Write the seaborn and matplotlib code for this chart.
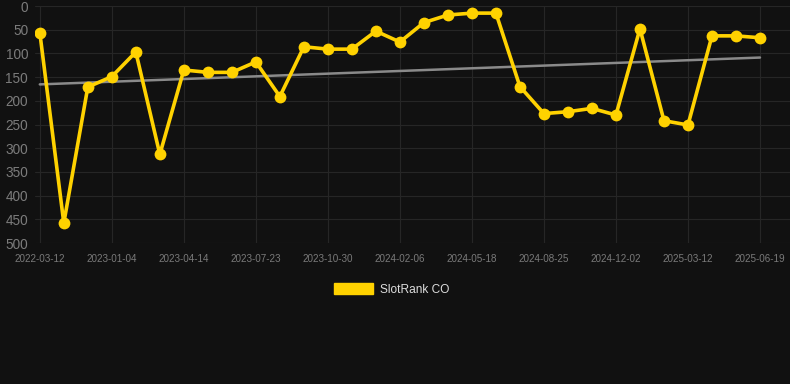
import numpy as np
import pandas as pd
import matplotlib
matplotlib.use("Agg")
import matplotlib.pyplot as plt
import seaborn as sns
from matplotlib.patches import Patch

# rank history (lower is better), one value per sampled date
dates = ["2022-03-12", "2022-06-20", "2022-10-01", "2023-01-04", "2023-02-06",
         "2023-03-11", "2023-04-14", "2023-05-17", "2023-06-19", "2023-07-23",
         "2023-08-25", "2023-09-27", "2023-10-30", "2023-12-02", "2024-01-04",
         "2024-02-06", "2024-03-10", "2024-04-14", "2024-05-18", "2024-06-20",
         "2024-07-23", "2024-08-25", "2024-09-27", "2024-10-30", "2024-12-02",
         "2025-01-04", "2025-02-06", "2025-03-12", "2025-04-14", "2025-05-17",
         "2025-06-19"]
ranks = [56, 458, 171, 149, 97, 313, 135, 140, 140, 118,
         191, 86, 91, 91, 53, 76, 35, 19, 15, 15,
         170, 227, 223, 216, 230, 48, 242, 251, 63, 63, 67]
y_ticks = [0, 50, 100, 150, 200, 250, 300, 350, 400, 450, 500]

df = pd.DataFrame({"date": dates, "rank": ranks})
df["idx"] = np.arange(len(df))

# linear trend over the series
slope, intercept = np.polyfit(df["idx"], df["rank"], 1)
df["trend"] = intercept + slope * df["idx"]

bg = "#111111"
sns.set_style("dark")
plt.rcParams["font.family"] = ["Liberation Sans", "DejaVu Sans"]

fig = plt.figure(figsize=(7.9, 3.84), dpi=100, facecolor=bg)
ax = fig.add_axes([35 / 790, 1 - 243 / 384, 755 / 790, 237 / 384])
ax.set_facecolor(bg)

sns.lineplot(data=df, x="idx", y="trend", ax=ax, color="#8a8a8a", linewidth=1.8)
sns.lineplot(data=df, x="idx", y="rank", ax=ax, color="#ffd200", linewidth=2.6,
             marker="o", markersize=8.5, markeredgewidth=0)

ax.set_ylim(500, 0)
ax.set_xlim(-0.2, len(df) - 1 + 1.25)
ax.set_yticks(y_ticks)
ax.set_yticklabels([str(v) for v in y_ticks], fontsize=9.8, color="#7c7c7c")
tick_pos = df["idx"][::3]
ax.set_xticks(tick_pos)
ax.set_xticklabels(df["date"][::3], fontsize=7.1, color="#7a7a7a")
ax.tick_params(axis="x", length=6, color="#2a2a2a", pad=2)
ax.tick_params(axis="y", length=0, pad=5)
ax.grid(True, color="#262626", linewidth=0.8)
ax.set_xlabel("")
ax.set_ylabel("")
for s in ax.spines.values():
    s.set_visible(False)

ax.legend(handles=[Patch(color="#ffd200", label="SlotRank CO")],
          loc="upper center", bbox_to_anchor=(0.472, -0.125), frameon=False,
          handlelength=3.3, handleheight=0.95, fontsize=8.6, labelcolor="#dddddd",
          handletextpad=0.55)

fig.savefig("out.png", dpi=100, facecolor=bg)
